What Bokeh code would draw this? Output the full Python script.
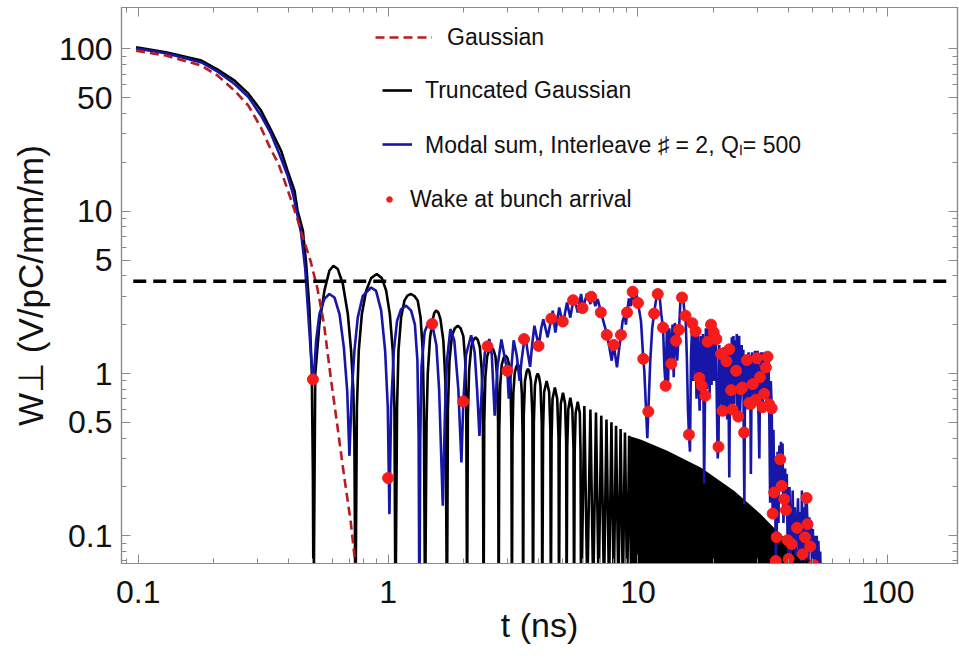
from bokeh.plotting import figure
from bokeh.models import (LogAxis, FixedTicker, CustomJSTickFormatter,
                          Legend, LegendItem)
from bokeh.embed import file_html
from bokeh.resources import INLINE

# ---------------- data ----------------
gauss_t = [0.098, 0.129, 0.179, 0.208, 0.243, 0.276, 0.310, 0.338, 0.364, 0.396, 0.410,
           0.434, 0.447, 0.490, 0.521, 0.553, 0.589, 0.626, 0.665, 0.708, 0.741]
gauss_w = [97.6, 91.0, 79.0, 68.4, 55.3, 44.7, 32.7, 24.3, 19.6, 13.6, 11.6,
           8.9, 7.6, 4.9, 3.35, 2.05, 0.95, 0.48, 0.24, 0.123, 0.065]

trunc_t = [0.098, 0.129, 0.179, 0.208, 0.243, 0.276, 0.310, 0.338, 0.373, 0.396, 0.422,
           0.434, 0.456, 0.470, 0.484, 0.495, 0.500, 0.503,
           0.511, 0.531, 0.556, 0.582, 0.604, 0.629, 0.659, 0.690, 0.711, 0.726, 0.733, 0.740,
           0.750, 0.763, 0.785, 0.817, 0.855, 0.901, 0.944, 0.982, 1.016, 1.044, 1.060, 1.070,
           1.086, 1.100, 1.127, 1.162, 1.195, 1.235, 1.275, 1.314, 1.349, 1.376, 1.390, 1.406,
           1.425, 1.441, 1.472, 1.510, 1.530, 1.556, 1.588, 1.620, 1.664, 1.695, 1.720,
           1.735, 1.760, 1.800, 1.850, 1.900, 1.950, 2.000, 2.035, 2.055, 2.070,
           2.085, 2.110, 2.150, 2.195, 2.240, 2.285, 2.330, 2.370, 2.395, 2.410,
           2.425, 2.450, 2.490, 2.540, 2.590, 2.640, 2.690, 2.730, 2.755, 2.770,
           2.785, 2.810, 2.850, 2.900, 2.950, 3.000, 3.050, 3.090, 3.115, 3.130,
           3.145, 3.170, 3.210, 3.255, 3.300, 3.345, 3.390, 3.430, 3.455, 3.470,
           3.490, 3.530, 3.585, 3.630, 3.675, 3.730, 3.780, 3.800,
           3.830, 3.870, 3.925, 3.970, 4.015, 4.070, 4.120, 4.140,
           4.170, 4.210, 4.310, 4.410, 4.460, 4.480,
           4.510, 4.550, 4.650, 4.750, 4.810, 4.830,
           4.860, 4.910, 5.010, 5.110, 5.160, 5.180,
           5.210, 5.260, 5.360, 5.460, 5.520, 5.550,
           5.580, 5.630, 5.740, 5.850, 5.890, 5.920,
           6.10, 6.27, 6.45, 6.62, 6.79, 6.96, 7.13, 7.31, 7.48, 7.66,
           7.83, 8.00, 8.17, 8.35, 8.52, 8.70, 8.87, 9.05, 9.22, 9.40]
trunc_w = [102.3, 95.5, 84.7, 74.5, 63.8, 53.0, 41.7, 32.2, 23.6, 17.7, 13.4,
           10.1, 7.59, 4.73, 2.55, 1.0, 0.24, 0.03,
           0.99, 2.02, 3.24, 4.30, 4.61, 4.40, 3.56, 2.32, 1.38, 0.78, 0.385, 0.03,
           0.617, 1.38, 2.32, 3.24, 3.87, 4.10, 3.87, 3.24, 2.32, 1.38, 0.617, 0.03,
           0.617, 1.38, 2.21, 2.81, 3.02, 3.09, 3.00, 2.81, 2.21, 1.38, 0.617, 0.03,
           0.5, 1.0, 1.67, 2.16, 2.36, 2.44, 2.38, 2.16, 1.59, 0.90, 0.03,
           0.6, 1.2, 1.7, 1.90, 1.97, 1.90, 1.7, 1.2, 0.6, 0.03,
           0.55, 1.05, 1.45, 1.61, 1.67, 1.61, 1.45, 1.05, 0.55, 0.03,
           0.5, 0.95, 1.27, 1.40, 1.45, 1.40, 1.27, 0.95, 0.5, 0.03,
           0.45, 0.85, 1.13, 1.25, 1.29, 1.25, 1.13, 0.85, 0.45, 0.03,
           0.4, 0.75, 1.0, 1.10, 1.14, 1.10, 1.0, 0.75, 0.4, 0.03,
           0.55, 0.9, 1.03, 1.07, 1.03, 0.9, 0.55, 0.03,
           0.5, 0.85, 0.96, 1.0, 0.96, 0.85, 0.5, 0.03,
           0.45, 0.77, 0.90, 0.77, 0.45, 0.03,
           0.4, 0.7, 0.82, 0.7, 0.4, 0.03,
           0.38, 0.65, 0.76, 0.65, 0.38, 0.03,
           0.35, 0.6, 0.71, 0.6, 0.35, 0.03,
           0.33, 0.57, 0.67, 0.57, 0.33, 0.03,
           0.63, 0.045, 0.60, 0.045, 0.575, 0.045, 0.55, 0.045, 0.52, 0.045,
           0.50, 0.045, 0.476, 0.045, 0.455, 0.045, 0.433, 0.045, 0.413, 0.045]

# envelope of the densely oscillating truncated-Gaussian tail
tail_t = [9.30, 10.3, 13.1, 17.9, 24.3, 31.0, 35.0, 39.7, 44.9, 50.6, 52.0]
tail_w = [0.41, 0.39, 0.334, 0.263, 0.189, 0.136, 0.112, 0.093, 0.079, 0.068, 0.05]

modal_t = [0.098, 0.129, 0.179, 0.208, 0.243, 0.276, 0.310, 0.338, 0.367, 0.396, 0.416,
           0.434, 0.449, 0.466, 0.477, 0.492, 0.503,
           0.515, 0.531, 0.556, 0.582, 0.610, 0.639, 0.665, 0.686, 0.700, 0.716, 0.733, 0.756,
           0.792, 0.855, 0.895, 0.938, 0.973, 0.997, 1.012, 1.028, 1.054, 1.086, 1.127, 1.180,
           1.236, 1.280, 1.310, 1.325, 1.334, 1.345, 1.360, 1.400, 1.450, 1.500, 1.560, 1.600,
           1.655, 1.690, 1.720, 1.775, 1.840, 1.910, 1.965, 2.000, 2.050, 2.150, 2.220, 2.270,
           2.320, 2.380, 2.440, 2.500, 2.540, 2.600, 2.670, 2.740, 2.840, 2.930, 3.000, 3.040,
           3.100, 3.180, 3.270, 3.360, 3.420, 3.510, 3.540, 3.620, 3.700, 3.770, 3.850, 3.930,
           4.010, 4.100, 4.180, 4.350, 4.500, 4.560, 4.670, 4.840, 5.000, 5.030, 5.200, 5.360,
           5.510, 5.560, 5.740, 5.920, 6.030, 6.250, 6.450, 6.530, 6.590, 6.750, 6.900, 7.110,
           7.450, 7.520, 7.680, 7.850, 8.000, 8.240, 8.420, 8.550, 8.680, 8.850, 8.950, 9.040,
           9.200, 9.350, 9.520, 9.700, 9.850, 10.00, 10.28, 10.50, 10.60, 10.90, 11.00, 11.20,
           11.40, 11.60, 11.75, 11.90, 12.00, 12.20, 12.40, 12.60, 12.75, 12.90,
           13.05, 13.20, 13.35, 13.60, 13.75, 13.90, 14.05, 14.20, 14.35, 14.60, 14.80, 15.00,
           15.15, 15.30, 15.50, 15.70, 15.85, 16.00, 16.15, 16.30, 16.50, 16.65, 16.80, 17.00,
           17.15, 17.30, 17.50, 17.65, 17.80, 18.00, 18.20, 18.40, 18.55, 18.70, 18.85, 19.00,
           19.20, 19.35, 19.55, 19.70, 19.85, 20.00, 20.20, 20.35, 20.50, 20.70, 20.85, 21.00,
           21.15, 21.30, 21.50, 21.65, 21.80, 22.00, 22.20, 22.40, 22.60, 22.75, 22.95, 23.20,
           23.40, 23.60, 23.75, 23.90, 24.10, 24.30, 24.50, 24.70, 24.85, 25.00, 25.20, 25.40,
           25.60, 25.80, 26.00, 26.20, 26.40, 26.50, 26.65, 26.85, 27.00, 27.30, 27.50, 27.70,
           27.90, 28.10, 28.30, 28.45, 28.60, 28.80, 29.00, 29.20, 29.40, 29.60, 29.90, 30.10,
           30.30, 30.60, 30.80, 31.05, 31.30, 31.50, 31.75, 32.00, 32.25, 32.50, 32.75, 33.00,
           33.25, 33.50, 33.80, 34.00, 34.30, 34.60, 34.85, 35.10, 35.35, 35.60, 35.90, 36.20,
           36.50, 36.80, 37.10, 37.35, 37.60, 37.90, 38.20, 38.50, 38.80, 39.10, 39.40, 39.70,
           40.10, 40.40, 40.80, 41.20, 41.60, 42.00, 42.40, 42.80, 43.30, 43.70, 44.10, 44.50,
           45.00, 45.30, 45.60, 46.00, 46.30, 46.60, 47.00, 47.30, 47.70, 48.10, 48.50, 48.90,
           49.30, 49.70, 50.10, 50.50, 50.90, 51.40, 51.90, 52.30, 52.70, 53.20, 53.60, 54.00]
modal_w = [100.5, 94.0, 82.6, 72.5, 60.8, 50.5, 38.8, 30.5, 22.5, 16.6, 12.8,
           9.4, 7.23, 4.4, 2.55, 1.25, 0.88,
           1.59, 2.32, 2.88, 3.09, 2.94, 2.32, 1.45, 0.78, 0.311, 0.78, 1.38, 2.21,
           3.01, 3.39, 3.23, 2.44, 1.38, 0.617, 0.136, 0.617, 1.38, 2.11, 2.49, 2.62,
           2.44, 2.0, 1.2, 0.4, 0.03, 0.4, 1.1, 1.8, 2.06, 2.02, 1.5, 0.8,
           0.153, 0.6, 1.2, 1.88, 1.6, 0.8, 0.283, 0.672, 1.3, 1.72, 1.35, 0.8,
           0.413, 0.9, 1.35, 1.47, 1.63, 1.3, 0.55, 1.1, 1.62, 1.25, 1.04, 0.70,
           1.0, 1.60, 1.30, 0.90, 1.20, 1.63, 1.72, 1.35, 1.10, 1.50, 1.97, 1.70,
           1.48, 1.9, 2.16, 1.67, 2.18, 2.44, 1.79, 2.55, 2.02, 2.09, 2.74, 2.21,
           2.83, 2.94, 2.38, 3.09, 2.53, 3.11, 2.68, 2.97, 3.05, 2.60, 2.88, 2.38,
           1.83, 1.73, 1.45, 1.20, 1.50, 1.09, 1.45, 1.73, 2.11, 2.30, 2.00, 2.38,
           2.90, 2.60, 3.19, 2.80, 3.10, 2.72, 2.11, 1.23, 1.04, 0.40, 0.583, 1.20,
           1.90, 2.34, 2.70, 3.00, 3.09, 3.05, 2.30, 1.92, 1.10, 0.84,
           1.90, 0.90, 1.90, 1.15, 2.00, 0.95, 2.05, 1.59, 1.20, 1.86, 2.90, 2.94,
           3.00, 2.50, 2.27, 1.20, 0.60, 0.42, 0.33, 1.30, 2.04, 0.90, 2.10, 1.82,
           0.70, 1.90, 0.94, 0.59, 1.70, 0.84, 1.75, 0.21, 0.73, 1.90, 0.80, 1.57,
           2.10, 0.75, 2.00, 0.85, 2.05, 1.79, 0.90, 1.95, 1.63, 0.60, 0.30, 0.354,
           1.50, 0.65, 1.32, 0.55, 0.589, 1.45, 0.60, 1.45, 1.19, 0.52, 1.30, 0.229,
           1.41, 0.79, 1.67, 0.60, 1.70, 0.65, 1.60, 1.04, 1.75, 0.56, 0.543, 1.71,
           0.56, 0.80, 1.50, 0.82, 1.40, 0.433, 0.157, 1.25, 0.70, 1.21, 0.60, 1.35,
           0.66, 1.30, 0.24, 0.65, 1.35, 0.86, 1.30, 0.62, 1.38, 0.69, 1.24, 1.38,
           0.65, 0.30, 0.95, 1.35, 0.60, 0.62, 1.35, 0.75, 1.33, 1.09, 0.62, 1.27,
           1.32, 0.647, 0.16, 0.90, 0.61, 0.137, 0.45, 0.185, 0.30, 0.07, 0.098, 0.33,
           0.12, 0.36, 0.296, 0.38, 0.203, 0.37, 0.12, 0.168, 0.26, 0.144, 0.24, 0.094,
           0.072, 0.20, 0.075, 0.089, 0.19, 0.085, 0.15, 0.075, 0.112, 0.17, 0.08, 0.14,
           0.07, 0.19, 0.077, 0.15, 0.08, 0.098, 0.18, 0.171, 0.118, 0.07, 0.13, 0.086,
           0.12, 0.065, 0.11, 0.066, 0.10, 0.06, 0.10, 0.06, 0.093, 0.06, 0.08, 0.05]

arrival_t = [0.5, 1.0, 1.5, 2.0, 2.5, 3.0, 3.5, 4.0, 4.5, 5.0, 5.5, 6.0, 6.5, 7.1,
             7.5, 8.0, 8.55, 9.04, 9.52, 10.0, 10.5, 11.0, 11.6, 12.0, 12.6, 12.9,
             13.6, 14.2, 14.6, 15.0, 15.5, 16.0, 16.5, 17.0, 17.6, 18.0, 18.6, 19.0,
             19.6, 20.1, 20.6, 21.0, 21.5, 21.8, 22.6, 23.2, 23.6, 23.9, 24.7, 25.2,
             25.8, 26.2, 26.6, 27.3, 27.9, 28.3, 28.8, 29.6, 29.9, 30.8, 31.5, 32.0,
             32.5, 33.0, 33.5, 34.3, 34.6, 35.1, 35.6, 35.9, 37.1, 37.6, 38.5, 39.1,
             39.7, 40.1, 41.2, 43.3, 45.6, 46.6, 47.3, 47.7, 48.9, 50.5]
arrival_w = [0.92, 0.227, 2.02, 0.672, 1.47, 1.04, 1.63, 1.48, 2.18, 2.09, 2.83, 2.53, 2.97, 2.38,
             1.73, 1.50, 1.73, 2.38, 3.19, 2.72, 1.23, 0.583, 2.34, 3.09, 1.92, 0.84,
             1.15, 1.59, 1.86, 2.94, 2.27, 0.42, 2.04, 1.82, 0.94, 0.84, 0.73, 1.57,
             2.00, 1.79, 1.63, 0.354, 1.32, 0.589, 1.19, 1.41, 0.79, 0.60, 1.04, 0.543,
             0.80, 0.82, 0.433, 1.21, 0.66, 0.65, 0.86, 0.69, 1.24, 0.95, 0.62, 0.75,
             1.09, 1.27, 0.647, 0.61, 0.137, 0.185, 0.070, 0.098, 0.296, 0.203, 0.168, 0.144,
             0.094, 0.072, 0.089, 0.112, 0.077, 0.098, 0.171, 0.118, 0.086, 0.066]

limit_t = [0.0955, 178.6]
limit_w = [3.7, 3.7]

x_major = [0.1, 1, 10, 100]
x_minor = [0.09, 0.2, 0.3, 0.4, 0.5, 0.6, 0.7, 0.8, 0.9, 2, 3, 4, 5, 6, 7, 8, 9,
           20, 30, 40, 50, 60, 70, 80, 90]
y_major = [0.1, 0.5, 1, 5, 10, 50, 100]
y_minor = [0.07, 0.08, 0.09, 0.2, 0.3, 0.4, 0.6, 0.7, 0.8, 0.9, 2, 3, 4, 6, 7, 8, 9,
           20, 30, 40, 60, 70, 80, 90]

# ---------------- figure ----------------
FONT = "Liberation Sans"
FRAME = "#8a8a8a"

p = figure(width=959, height=658, x_axis_type="log", y_axis_type="log",
           x_range=(0.0857, 190), y_range=(0.0675, 180),
           output_backend="svg", toolbar_location=None,
           min_border_left=121, min_border_right=2, min_border_top=7,
           min_border_bottom=95)
p.grid.visible = False
p.outline_line_color = FRAME
p.outline_line_width = 1.2

label_fmt = CustomJSTickFormatter(code="return String(tick);")
blank_fmt = CustomJSTickFormatter(code="return '';")


def style_axis(ax, major, minor, fmt):
    ax.ticker = FixedTicker(ticks=major, minor_ticks=minor)
    ax.formatter = fmt
    ax.axis_line_color = FRAME
    ax.axis_line_width = 1.2
    ax.major_tick_line_color = FRAME
    ax.minor_tick_line_color = FRAME
    ax.major_tick_in = 9
    ax.major_tick_out = 0
    ax.minor_tick_in = 5
    ax.minor_tick_out = 0
    ax.major_label_text_font = FONT
    ax.major_label_text_font_size = "32px"
    ax.major_label_text_color = "#111111"


xa = p.xaxis[0]
style_axis(xa, x_major, x_minor, label_fmt)
xa.major_label_standoff = 17
xa.axis_label = "t (ns)"
xa.axis_label_text_font = FONT
xa.axis_label_text_font_size = "34px"
xa.axis_label_text_font_style = "normal"
xa.axis_label_text_color = "#111111"
xa.axis_label_standoff = 0

ya = p.yaxis[0]
style_axis(ya, y_major, y_minor, label_fmt)
ya.major_label_standoff = 9
ya.axis_label = "W\u22a5 (V/pC/mm/m)"
ya.axis_label_text_font = FONT
ya.axis_label_text_font_size = "35px"
ya.axis_label_text_font_style = "normal"
ya.axis_label_text_color = "#111111"
ya.axis_label_standoff = 6

top = LogAxis()
style_axis(top, x_major, x_minor, blank_fmt)
top.major_label_standoff = 0
p.add_layout(top, "above")
right = LogAxis()
style_axis(right, y_major, y_minor, blank_fmt)
right.major_label_standoff = 0
p.add_layout(right, "right")

# ---------------- glyphs ----------------
r_trunc = p.line(trunc_t, trunc_w, line_color="black", line_width=2.6)
p.varea(x=tail_t, y1=0.03, y2=tail_w, fill_color="black")
r_modal = p.line(modal_t, modal_w, line_color="#1616a8", line_width=2.6)
r_gauss = p.line(gauss_t, gauss_w, line_color="#b51d22", line_width=2.6,
                 line_dash="9 5")
p.line(limit_t, limit_w, line_color="black", line_width=3.5, line_dash="13 7")
r_dots = p.scatter(arrival_t, arrival_w, size=11, fill_color="#f71c1c",
                   line_color="#f71c1c")

# ---------------- legend (one per entry, positioned individually) ----------------
def add_legend(label, renderer, x, y, gw, standoff):
    leg = Legend(items=[LegendItem(label=label, renderers=[renderer])],
                 location=(x, y), glyph_width=gw, glyph_height=30, label_height=30,
                 label_standoff=standoff, padding=0, margin=0, spacing=0,
                 border_line_alpha=0, background_fill_alpha=0,
                 label_text_font=FONT, label_text_font_size="23px",
                 label_text_color="#111111")
    p.add_layout(leg)


add_legend("Gaussian", r_gauss, 254, 511, 57, 15)
add_legend("Truncated Gaussian", r_trunc, 261, 458, 30, 13)
add_legend("Modal sum, Interleave \u266f = 2, Q\u2097= 500", r_modal, 261, 403, 30, 13)
add_legend("Wake at bunch arrival", r_dots, 261, 349, 14, 14)

open("out.html", "w").write(file_html(p, INLINE))
